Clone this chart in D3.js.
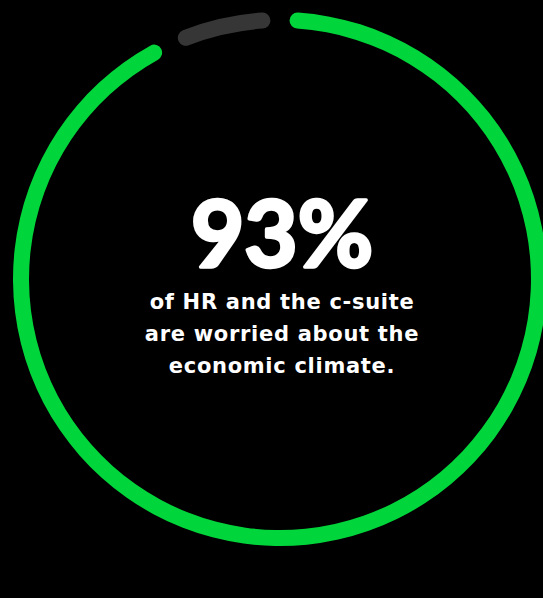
<!DOCTYPE html>
<html>
<head>
<meta charset="utf-8">
<script src="https://cdn.jsdelivr.net/npm/d3@7"></script>
<style>
  html, body { margin: 0; padding: 0; background: #000; }
  svg { display: block; }
  .big { font-family: Lato, Inter, sans-serif; font-weight: 700; fill: #fff;
         stroke: #fff; stroke-width: 3.5px; stroke-linejoin: round; }
  .sub { font-family: "DejaVu Sans", Inter, sans-serif; font-weight: 700; fill: #fff; }
</style>
</head>
<body>
<div id="chart"></div>
<script>
// share of respondents worried vs not
var segments = ['worried', 'not worried'];
var shares = [93, 7];
var segmentColors = ['#00d63b', '#363636'];
var headline = '93%';
var subLines = ['of HR and the c-suite', 'are worried about the', 'economic climate.'];

var width = 543, height = 598;
var cx = 280, cy = 279;

var svg = d3.select('#chart')
    .append('svg')
    .attr('width', width)
    .attr('height', height);

var g = svg.append('g')
    .attr('transform', 'translate(' + cx + ',' + cy + ')');

var colorScale = d3.scaleOrdinal()
    .domain(segments)
    .range(segmentColors);

var pie = d3.pie()
    .sort(null)
    .value(function(d) { return d.value; });

var arc = d3.arc()
    .innerRadius(251)
    .outerRadius(267)
    .cornerRadius(8)
    .padAngle(0.052);

var pieData = pie(segments.map(function(s, i) {
    return { key: s, value: shares[i] };
}));

g.selectAll('.slice')
    .data(pieData)
    .enter()
    .append('path')
    .attr('class', 'slice')
    .attr('d', arc)
    .attr('fill', function(d) { return colorScale(d.data.key); });

g.append('text')
    .attr('class', 'big')
    .attr('x', 2)
    .attr('y', -12)
    .attr('text-anchor', 'middle')
    .style('font-size', '92px')
    .text(headline);

g.selectAll('.sub')
    .data(subLines)
    .enter()
    .append('text')
    .attr('class', 'sub')
    .attr('x', 2)
    .attr('y', function(d, i) { return 30 + i * 32; })
    .attr('text-anchor', 'middle')
    .style('font-size', '21px')
    .style('letter-spacing', '0.7px')
    .text(function(d) { return d; });
</script>
</body>
</html>
